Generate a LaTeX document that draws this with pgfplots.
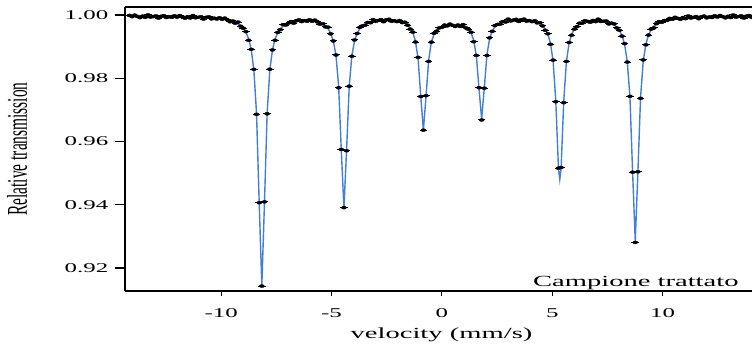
\documentclass[border=0pt]{standalone}
\usepackage{fontspec}
\setmainfont{Liberation Serif}
\usepackage{graphicx}
\usepackage{pgfplots}
\usepackage{pgfplotstable}
\pgfplotsset{compat=1.18}
\definecolor{fitblue}{RGB}{66,128,214}
\newcommand{\hs}[1]{\scalebox{1.85}[1]{#1}}
\pgfplotstableread{
x fit dat
-14.16 0.99957 0.99987
-14.04 0.99957 0.99947
-13.92 0.99957 0.99997
-13.80 0.99956 0.99956
-13.68 0.99956 0.99916
-13.56 0.99955 0.99965
-13.44 0.99955 0.99925
-13.32 0.99954 1.00004
-13.20 0.99953 0.99933
-13.08 0.99953 0.99953
-12.96 0.99952 0.99972
-12.84 0.99951 0.99901
-12.72 0.99950 0.99960
-12.60 0.99950 0.99980
-12.48 0.99949 0.99919
-12.36 0.99948 0.99948
-12.24 0.99947 0.99927
-12.12 0.99945 0.99975
-12.00 0.99944 0.99934
-11.88 0.99943 0.99983
-11.76 0.99941 0.99941
-11.64 0.99939 0.99899
-11.52 0.99938 0.99948
-11.40 0.99935 0.99905
-11.28 0.99933 0.99983
-11.16 0.99931 0.99911
-11.04 0.99928 0.99928
-10.92 0.99925 0.99945
-10.80 0.99921 0.99871
-10.68 0.99917 0.99927
-10.56 0.99912 0.99942
-10.44 0.99907 0.99877
-10.32 0.99900 0.99900
-10.20 0.99893 0.99873
-10.08 0.99884 0.99914
-9.96 0.99874 0.99864
-9.84 0.99861 0.99901
-9.72 0.99846 0.99846
-9.60 0.99826 0.99786
-9.48 0.99801 0.99811
-9.36 0.99769 0.99739
-9.24 0.99726 0.99776
-9.12 0.99666 0.99646
-9.00 0.99581 0.99581
-8.88 0.99454 0.99474
-8.76 0.99251 0.99201
-8.64 0.98904 0.98914
-8.52 0.98251 0.98281
-8.40 0.96890 0.96860
-8.28 0.94064 0.94064
-8.16 0.91448 0.91428
-8.04 0.94062 0.94092
-7.92 0.96886 0.96876
-7.80 0.98245 0.98285
-7.68 0.98895 0.98895
-7.56 0.99240 0.99200
-7.44 0.99440 0.99450
-7.32 0.99565 0.99535
-7.20 0.99646 0.99696
-7.08 0.99703 0.99683
-6.96 0.99743 0.99743
-6.84 0.99772 0.99792
-6.72 0.99791 0.99741
-6.60 0.99806 0.99816
-6.48 0.99816 0.99846
-6.36 0.99821 0.99791
-6.24 0.99824 0.99824
-6.12 0.99823 0.99803
-6.00 0.99818 0.99848
-5.88 0.99810 0.99800
-5.76 0.99798 0.99838
-5.64 0.99779 0.99779
-5.52 0.99751 0.99711
-5.40 0.99713 0.99723
-5.28 0.99654 0.99624
-5.16 0.99566 0.99616
-5.04 0.99424 0.99404
-4.92 0.99179 0.99179
-4.80 0.98716 0.98736
-4.68 0.97748 0.97698
-4.56 0.95738 0.95748
-4.44 0.93878 0.93908
-4.32 0.95738 0.95708
-4.20 0.97749 0.97749
-4.08 0.98717 0.98697
-3.96 0.99180 0.99210
-3.84 0.99426 0.99416
-3.72 0.99568 0.99608
-3.60 0.99657 0.99657
-3.48 0.99716 0.99676
-3.36 0.99756 0.99766
-3.24 0.99784 0.99754
-3.12 0.99804 0.99854
-3.00 0.99818 0.99798
-2.88 0.99828 0.99828
-2.76 0.99834 0.99854
-2.64 0.99837 0.99787
-2.52 0.99838 0.99848
-2.40 0.99836 0.99866
-2.28 0.99831 0.99801
-2.16 0.99823 0.99823
-2.04 0.99811 0.99791
-1.92 0.99794 0.99824
-1.80 0.99769 0.99759
-1.68 0.99733 0.99773
-1.56 0.99680 0.99680
-1.44 0.99594 0.99554
-1.32 0.99449 0.99459
-1.20 0.99176 0.99146
-1.08 0.98611 0.98661
-0.96 0.97442 0.97422
-0.84 0.96359 0.96359
-0.72 0.97428 0.97448
-0.60 0.98582 0.98532
-0.48 0.99132 0.99142
-0.36 0.99390 0.99420
-0.24 0.99520 0.99490
-0.12 0.99590 0.99590
0.00 0.99630 0.99610
0.12 0.99652 0.99682
0.24 0.99665 0.99655
0.36 0.99672 0.99712
0.48 0.99676 0.99676
0.60 0.99676 0.99636
0.72 0.99673 0.99683
0.84 0.99665 0.99635
0.96 0.99647 0.99697
1.08 0.99614 0.99594
1.20 0.99551 0.99551
1.32 0.99435 0.99455
1.44 0.99205 0.99155
1.56 0.98711 0.98721
1.68 0.97672 0.97702
1.80 0.96710 0.96680
1.92 0.97686 0.97686
2.04 0.98740 0.98720
2.16 0.99248 0.99278
2.28 0.99494 0.99484
2.40 0.99625 0.99665
2.52 0.99703 0.99703
2.64 0.99752 0.99712
2.76 0.99784 0.99794
2.88 0.99806 0.99776
3.00 0.99821 0.99871
3.12 0.99832 0.99812
3.24 0.99839 0.99839
3.36 0.99843 0.99863
3.48 0.99845 0.99795
3.60 0.99844 0.99854
3.72 0.99840 0.99870
3.84 0.99834 0.99804
3.96 0.99824 0.99824
4.08 0.99809 0.99789
4.20 0.99789 0.99819
4.32 0.99760 0.99750
4.44 0.99718 0.99758
4.56 0.99656 0.99656
4.68 0.99558 0.99518
4.80 0.99396 0.99406
4.92 0.99104 0.99074
5.04 0.98524 0.98574
5.16 0.97278 0.97258
5.28 0.95157 0.95157
5.34 0.94800 nan
5.40 0.95157 0.95177
5.52 0.97277 0.97227
5.64 0.98522 0.98532
5.76 0.99102 0.99132
5.88 0.99392 0.99362
6.00 0.99554 0.99554
6.12 0.99650 0.99630
6.24 0.99712 0.99742
6.36 0.99753 0.99743
6.48 0.99780 0.99820
6.60 0.99798 0.99798
6.72 0.99810 0.99770
6.84 0.99817 0.99827
6.96 0.99820 0.99790
7.08 0.99819 0.99869
7.20 0.99814 0.99794
7.32 0.99804 0.99804
7.44 0.99789 0.99809
7.56 0.99767 0.99717
7.68 0.99735 0.99745
7.80 0.99689 0.99719
7.92 0.99621 0.99591
8.04 0.99518 0.99518
8.16 0.99352 0.99332
8.28 0.99065 0.99095
8.40 0.98522 0.98512
8.52 0.97389 0.97429
8.64 0.95030 0.95030
8.76 0.92849 0.92809
8.88 0.95033 0.95043
9.00 0.97394 0.97364
9.12 0.98530 0.98580
9.24 0.99076 0.99056
9.36 0.99366 0.99366
9.48 0.99534 0.99554
9.60 0.99641 0.99591
9.72 0.99713 0.99723
9.84 0.99762 0.99792
9.96 0.99799 0.99769
10.08 0.99826 0.99826
10.20 0.99847 0.99827
10.32 0.99863 0.99893
10.44 0.99876 0.99866
10.56 0.99887 0.99927
10.68 0.99896 0.99896
10.80 0.99903 0.99863
10.92 0.99910 0.99920
11.04 0.99915 0.99885
11.16 0.99919 0.99969
11.28 0.99923 0.99903
11.40 0.99927 0.99927
11.52 0.99930 0.99950
11.64 0.99933 0.99883
11.76 0.99935 0.99945
11.88 0.99937 0.99967
12.00 0.99939 0.99909
12.12 0.99941 0.99941
12.24 0.99942 0.99922
12.36 0.99944 0.99974
12.48 0.99945 0.99935
12.60 0.99946 0.99986
12.72 0.99947 0.99947
12.84 0.99949 0.99909
12.96 0.99950 0.99960
13.08 0.99950 0.99920
13.20 0.99951 1.00001
13.32 0.99952 0.99932
13.44 0.99953 0.99953
13.56 0.99954 0.99974
13.68 0.99954 0.99904
13.80 0.99955 0.99965
13.92 0.99955 0.99985
14.04 0.99956 0.99926
}\spectrum

\begin{document}
\begin{tikzpicture}
\path[use as bounding box] (-125bp,-57bp) rectangle (627bp,291bp);
\begin{axis}[
  at={(0bp,0bp)}, anchor=south west,
  scale only axis, width=627bp, height=284bp,
  xmin=-14.36, xmax=14.05, ymin=0.91273, ymax=1.00253,
  axis x line=box, axis y line=left,
  axis line style={-, line width=1.1bp, black},
  xtick pos=left, ytick pos=left,
  tick align=outside,
  xtick={-10,-5,0,5,10},
  xticklabels={\hs{-10},\hs{-5},\hs{0},\hs{5},\hs{10}},
  ytick={0.92,0.94,0.96,0.98,1.00},
  yticklabels={\hs{0.92},\hs{0.94},\hs{0.96},\hs{0.98},\hs{1.00}},
  xtick style={/pgfplots/major tick length=5bp, line width=1.1bp, black},
  ytick style={/pgfplots/major tick length=10bp, line width=1.1bp, black},
  tick label style={font=\fontsize{13.5}{15}\selectfont},
  xticklabel style={yshift=-10bp},
  yticklabel style={xshift=-9bp},
  label style={font=\fontsize{15.5}{18}\selectfont},
  xlabel={\hs{velocity (mm/s)}},
  xlabel style={at={(rel axis cs:0.5,0)}, anchor=base, yshift=-47bp, xshift=3bp},
  ylabel={\scalebox{1}[1.85]{Relative transmission}},
  ylabel style={at={(rel axis cs:0,0.5)}, anchor=base, yshift=98bp},
  clip=true,
]
\addplot[fitblue, line width=1.4bp] table[x=x,y=fit]{\spectrum};
\addplot[only marks, mark=-, mark size=3.8bp, mark options={line width=1bp, black}] table[x=x,y=dat]{\spectrum};
\addplot[only marks, mark=*, mark size=1.5bp, mark options={black, xscale=1.7}] table[x=x,y=dat]{\spectrum};
\node[anchor=base east, font=\fontsize{15.5}{18}\selectfont] at (axis cs:13.6,0.9143) {\hs{Campione trattato}};
\end{axis}
\end{tikzpicture}
\end{document}
